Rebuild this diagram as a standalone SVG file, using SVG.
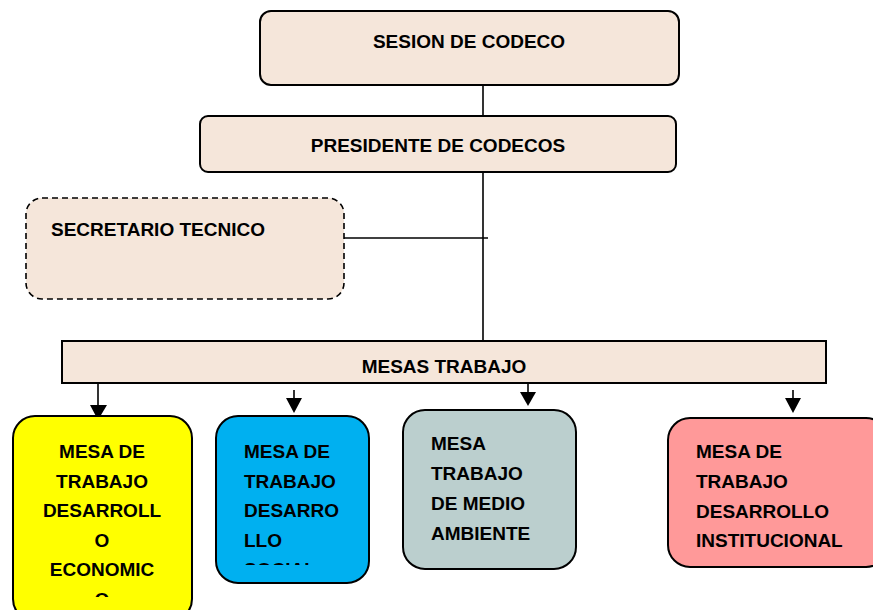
<svg xmlns="http://www.w3.org/2000/svg" width="873" height="610" viewBox="0 0 873 610">
<style>
.t{font-family:"Liberation Sans",Arial,sans-serif;font-weight:bold;font-size:19px;fill:#000}
.cream{fill:#F5E6DA;stroke:#000;stroke-width:2}
.box{stroke:#000;stroke-width:2}
.ln{stroke:#000;stroke-width:1.6;fill:none}
</style>
<defs>
<marker id="ah" markerUnits="userSpaceOnUse" markerWidth="16" markerHeight="16" refX="8" refY="15" orient="auto-start-reverse" viewBox="0 0 16 16">
<path d="M0,0 L16,0 L8,15 Z" fill="#000" transform="rotate(0)"/>
</marker>
<clipPath id="c1"><rect x="0" y="0" width="873" height="597"/></clipPath>
<clipPath id="c2"><rect x="0" y="0" width="873" height="565"/></clipPath>
</defs>
<g id="connectors">
<line class="ln" x1="483" y1="85" x2="483" y2="116"/>
<line class="ln" x1="483" y1="172" x2="483" y2="341"/>
<line class="ln" x1="344" y1="238" x2="488" y2="238"/>
<line class="ln" x1="98" y1="383" x2="98" y2="405" stroke-width="2.2"/>
<polygon points="90,405 107,405 98,420" fill="#000"/>
<line class="ln" x1="294" y1="390" x2="294" y2="399" stroke-width="2.2"/>
<polygon points="286,398 302,398 294,413" fill="#000"/>
<line class="ln" x1="528" y1="383" x2="528" y2="393" stroke-width="2.2"/>
<polygon points="520,392 536,392 528,406" fill="#000"/>
<line class="ln" x1="793" y1="390" x2="793" y2="399" stroke-width="2.2"/>
<polygon points="785,398 801,398 793,413" fill="#000"/>
</g>
<g id="sesion">
<rect class="cream" x="260" y="11" width="419" height="74" rx="11"/>
<text class="t" x="469" y="48" text-anchor="middle">SESION DE CODECO</text>
</g>
<g id="presidente">
<rect class="cream" x="200" y="116" width="476" height="56" rx="8"/>
<text class="t" x="438" y="152" text-anchor="middle">PRESIDENTE DE CODECOS</text>
</g>
<g id="secretario">
<rect x="26" y="198" width="318" height="101" rx="16" fill="#F5E6DA" stroke="#000" stroke-width="1.6" stroke-dasharray="6,4"/>
<text class="t" x="51" y="236">SECRETARIO TECNICO</text>
</g>
<g id="mesas">
<rect class="cream" x="62" y="341" width="764" height="42"/>
<text class="t" x="444" y="373" text-anchor="middle">MESAS TRABAJO</text>
</g>
<g id="mesa-economico">
<rect class="box" x="13" y="416" width="179" height="205" rx="22" fill="#FFFF00"/>
<g clip-path="url(#c1)">
<text class="t" x="102" y="458" text-anchor="middle">MESA DE</text>
<text class="t" x="102" y="488" text-anchor="middle">TRABAJO</text>
<text class="t" x="102" y="517" text-anchor="middle">DESARROLL</text>
<text class="t" x="102" y="547" text-anchor="middle">O</text>
<text class="t" x="102" y="576" text-anchor="middle">ECONOMIC</text>
<text class="t" x="102" y="606" text-anchor="middle">O</text>
</g>
</g>
<g id="mesa-social">
<rect class="box" x="216" y="416" width="153" height="167" rx="22" fill="#00B0F0"/>
<g clip-path="url(#c2)">
<text class="t" x="244" y="458">MESA DE</text>
<text class="t" x="244" y="488">TRABAJO</text>
<text class="t" x="244" y="517">DESARRO</text>
<text class="t" x="244" y="547">LLO</text>
<text class="t" x="244" y="576">SOCIAL</text>
</g>
</g>
<g id="mesa-ambiente">
<rect class="box" x="403" y="410" width="173" height="159" rx="22" fill="#BBCFCE"/>
<text class="t" x="431" y="450">MESA</text>
<text class="t" x="431" y="480">TRABAJO</text>
<text class="t" x="431" y="510">DE MEDIO</text>
<text class="t" x="431" y="540">AMBIENTE</text>
</g>
<g id="mesa-institucional">
<rect class="box" x="668" y="418" width="220" height="149" rx="22" fill="#FF9999"/>
<text class="t" x="696" y="458">MESA DE</text>
<text class="t" x="696" y="488">TRABAJO</text>
<text class="t" x="696" y="518">DESARROLLO</text>
<text class="t" x="696" y="547">INSTITUCIONAL</text>
</g>
</svg>
